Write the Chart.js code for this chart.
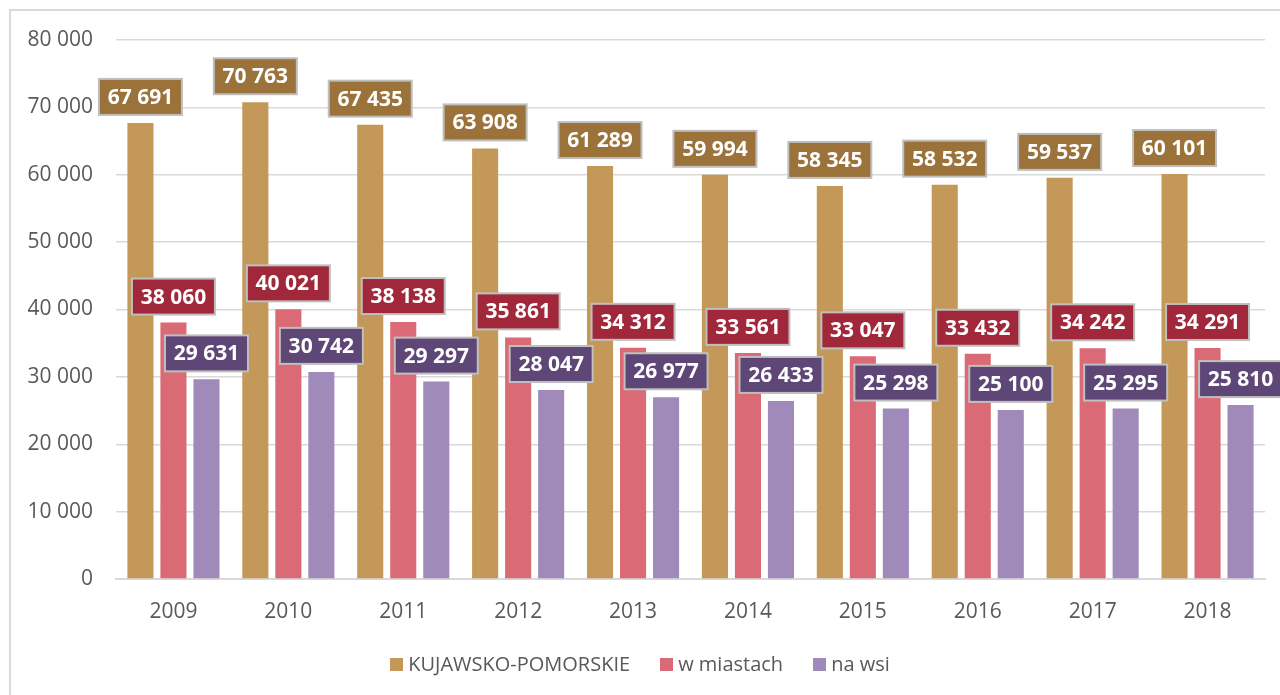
<!DOCTYPE html>
<html><head><meta charset="utf-8">
<script src="https://cdn.jsdelivr.net/npm/chart.js@4.4.1/dist/chart.umd.min.js"></script>
<style>
html,body{margin:0;padding:0;background:#fff;overflow:hidden}
#wrap{position:relative;width:1280px;height:695px}
#frame{position:absolute;left:9px;top:9px;width:1300px;height:720px;border:2px solid #d9d9d9;box-sizing:border-box}
#c{position:absolute;left:0;top:0}
#legend{position:absolute;left:0;top:652px;width:1280px;text-align:center;font:20px "Open Sans";line-height:24px;color:#595959;white-space:nowrap}
.item{display:inline-block;margin:0 15px}
.sw{display:inline-block;width:13px;height:13px;margin-right:5px}
</style></head>
<body>
<div id="wrap">
<div id="frame"></div>
<canvas id="c" width="1280" height="695"></canvas>
<div id="legend"></div>
</div>
<script>
const categories = ['2009','2010','2011','2012','2013','2014','2015','2016','2017','2018'];
const seriesNames = ['KUJAWSKO-POMORSKIE','w miastach','na wsi'];
const kujawskoPomorskie = [67691,70763,67435,63908,61289,59994,58345,58532,59537,60101];
const wMiastach = [38060,40021,38138,35861,34312,33561,33047,33432,34242,34291];
const naWsi = [29631,30742,29297,28047,26977,26433,25298,25100,25295,25810];
const yTicks = [0,10000,20000,30000,40000,50000,60000,70000,80000];

const barColors = ['#C39858','#DA6A75','#A08AB9'];
const labelColors = ['#9A723A','#A0283A','#5E4777'];

function fmt(n){ return String(n).replace(/\B(?=(\d{3})+(?!\d))/g,' '); }

const boxLabels = {
  id:'boxLabels',
  afterDatasetsDraw(chart){
    const ctx = chart.ctx;
    ctx.save();
    ctx.font = 'bold 21px "Open Sans"';
    ctx.textAlign = 'center';
    ctx.textBaseline = 'middle';
    chart.data.datasets.forEach((ds,i)=>{
      const meta = chart.getDatasetMeta(i);
      meta.data.forEach((bar,j)=>{
        const txt = fmt(ds.data[j]);
        const w = Math.round(ctx.measureText(txt).width) + 18;
        const h = 36;
        const x = bar.x - w/2;
        const y = bar.y - 8 - h;
        ctx.fillStyle = labelColors[i];
        ctx.fillRect(x,y,w,h);
        ctx.strokeStyle = '#bfbfbf';
        ctx.lineWidth = 2;
        ctx.strokeRect(x,y,w,h);
        ctx.fillStyle = '#ffffff';
        ctx.fillText(txt, bar.x, y + h/2 + 1);
      });
    });
    ctx.restore();
  }
};

function build(){
  const lg = document.getElementById('legend');
  seriesNames.forEach((n,i)=>{
    const s = document.createElement('span'); s.className='item';
    const b = document.createElement('span'); b.className='sw'; b.style.background = barColors[i];
    s.appendChild(b); s.appendChild(document.createTextNode(n));
    lg.appendChild(s);
  });
  new Chart(document.getElementById('c'), {
    type:'bar',
    data:{
      labels: categories,
      datasets:[
        {label:seriesNames[0], data:kujawskoPomorskie, backgroundColor:barColors[0]},
        {label:seriesNames[1], data:wMiastach, backgroundColor:barColors[1]},
        {label:seriesNames[2], data:naWsi, backgroundColor:barColors[2]}
      ]
    },
    options:{
      responsive:false,
      animation:false,
      datasets:{bar:{categoryPercentage:0.862, barPercentage:0.79, borderWidth:0}},
      layout:{padding:{top:40,right:15,bottom:51,left:0}},
      plugins:{legend:{display:false}, tooltip:{enabled:false}},
      scales:{
        x:{
          grid:{display:false},
          border:{color:'#d9d9d9', width:2},
          ticks:{color:'#595959', font:{family:'"Open Sans"', size:21}, padding:12, maxRotation:0},
          afterFit(s){ s.height = 65; }
        },
        y:{
          min:0, max:80000,
          afterBuildTicks(s){ s.ticks = yTicks.map(v=>({value:v})); },
          grid:{color:'#d9d9d9', lineWidth:1.5, drawTicks:false},
          border:{display:false},
          ticks:{color:'#595959', font:{family:'"Open Sans"', size:21}, padding:23, callback:v=>fmt(v)},
          afterFit(s){ s.width = 116; }
        }
      }
    },
    plugins:[boxLabels]
  });
}
Promise.all([
  document.fonts.load('21px "Open Sans"'),
  document.fonts.load('bold 21px "Open Sans"')
]).then(build, build);
</script>
</body></html>
